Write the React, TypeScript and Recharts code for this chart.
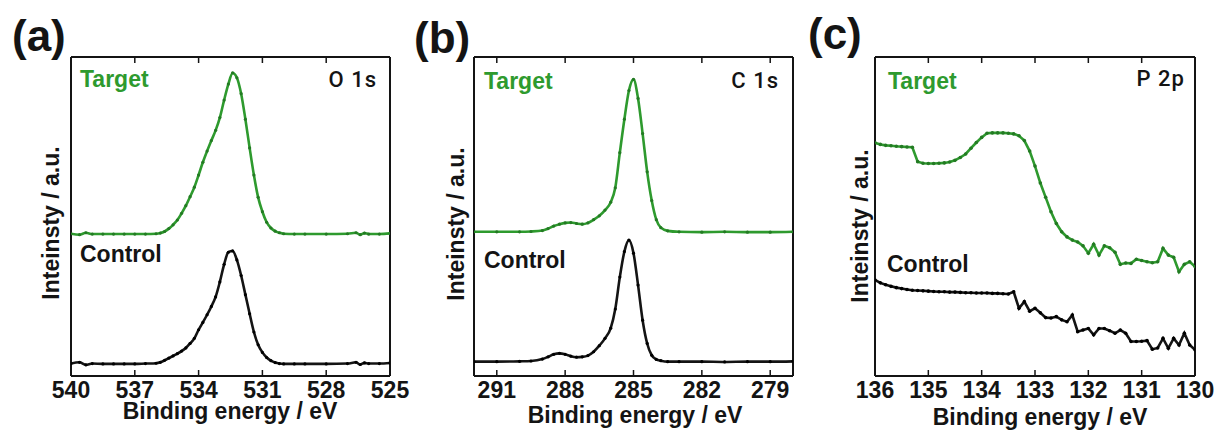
import { Line, LineChart, XAxis, YAxis } from 'recharts'

const FONT = '"Liberation Sans", Arial, Helvetica, sans-serif'
const GREEN = '#2e9a2e'
const GREEN_DOT = '#237a23'
const BLACK = '#141414'

// (a) O 1s
const o1sEnergy = [
  540, 539.6, 539.3, 539, 538.5, 538, 537.5, 537, 536.5,
  536, 535.8, 535.6, 535.4, 535.2, 535, 534.8, 534.6, 534.4, 534.2, 534,
  533.8, 533.6, 533.4, 533.2, 533, 532.8, 532.6, 532.4, 532.2, 532,
  531.8, 531.6, 531.4, 531.2, 531, 530.8, 530.6, 530.4, 530.2, 530,
  529.5, 529, 528, 527, 526.6, 526.4, 526.2, 526, 525.5, 525,
]
const o1sTarget = [
  44.6, 44.3, 44.9, 44.5, 44.5, 44.5, 44.5, 44.5, 44.5,
  44.6, 44.8, 45.3, 46.2, 47.4, 48.9, 51.0, 53.4, 56.2, 59.2, 63.0,
  67.0, 70.5, 73.8, 77.0, 81.0, 86.5, 91.5, 95.0, 93.5, 88.5,
  80.5, 71.5, 63.0, 56.0, 51.5, 48.2, 46.4, 45.4, 44.9, 44.6,
  44.5, 44.5, 44.5, 44.6, 44.9, 44.3, 44.8, 44.5, 44.5, 44.7,
]
const o1sControl = [
  3.9, 4.3, 3.5, 3.9, 3.8, 3.8, 3.8, 3.8, 3.9,
  4.0, 4.3, 4.9, 5.6, 6.3, 7.0, 7.8, 8.8, 10.2, 11.8, 14.5,
  16.8, 19.2, 21.8, 24.8, 29.5, 35.0, 38.8, 39.2, 36.4, 31.5,
  25.5, 19.5, 13.8, 9.8, 7.4, 5.8, 4.8, 4.2, 3.9, 3.8,
  3.8, 3.8, 3.8, 3.9, 4.3, 3.6, 4.1, 3.9, 3.9, 4.1,
]
const o1sTicks = [540, 537, 534, 531, 528, 525]

// (b) C 1s
const c1sEnergy = [
  292, 291, 290, 289.5, 289, 288.75, 288.5, 288.25, 288, 287.75, 287.5, 287.25,
  287, 286.75, 286.5, 286.25, 286, 285.8, 285.6, 285.4, 285.2, 285, 284.8,
  284.6, 284.4, 284.2, 284, 283.8, 283.5, 283, 282, 281, 280, 279, 278,
]
const c1sTarget = [
  45.2, 45.2, 45.2, 45.3, 45.6, 46.2, 47.0, 47.6, 48.0, 48.1, 47.8, 47.6,
  48.0, 49.0, 50.2, 52.0, 54.5, 59.0, 70.0, 80.5, 89.5, 93.0, 87.0,
  76.0, 64.0, 55.0, 49.0, 46.5, 45.5, 45.2, 45.1, 45.2, 45.1, 45.1, 45.2,
]
const c1sControl = [
  4.5, 4.5, 4.6, 4.7, 5.3, 6.0, 6.8, 7.1, 6.8, 6.2, 5.9, 6.0,
  6.4, 7.6, 9.5, 11.8, 15.0, 21.0, 31.0, 39.0, 42.6, 38.5, 28.5,
  17.5, 10.2, 6.5, 5.2, 4.8, 4.5, 4.5, 4.5, 4.4, 4.5, 4.5, 4.6,
]
const c1sTicks = [291, 288, 285, 282, 279]

// (c) P 2p
const p2pEnergy = [
  136, 135.9, 135.8, 135.7, 135.6, 135.5, 135.4, 135.3, 135.2, 135.1,
  135, 134.9, 134.8, 134.7, 134.6, 134.5, 134.4, 134.3, 134.2, 134.1,
  134, 133.9, 133.8, 133.7, 133.6, 133.5, 133.4, 133.3, 133.2, 133.1,
  133, 132.9, 132.8, 132.7, 132.6, 132.5, 132.4, 132.3, 132.2, 132.1,
  132, 131.9, 131.8, 131.7, 131.6, 131.5, 131.4, 131.3, 131.2, 131.1,
  131, 130.9, 130.8, 130.7, 130.6, 130.5, 130.4, 130.3, 130.2, 130.1, 130,
]
const p2pTarget = [
  73.1, 72.6, 72.3, 72.2, 72.0, 71.9, 71.8, 71.7, 67.2, 66.7,
  66.6, 66.6, 66.7, 66.8, 67.1, 67.6, 68.5, 69.6, 71.4, 73.2,
  74.8, 76.1, 76.2, 76.2, 76.2, 76.1, 75.9, 75.3, 73.8, 70.5,
  65.8, 60.5, 56.0, 51.5, 47.8, 45.2, 43.6, 42.6, 42.0, 40.8,
  38.5, 41.3, 37.9, 40.8, 40.2, 38.8, 35.0, 35.4, 35.3, 36.6,
  36.2, 35.8, 35.5, 35.8, 40.0, 37.9, 37.2, 32.7, 35.0, 35.8, 34.3,
]
const p2pControl = [
  30.1, 29.2, 28.6, 28.1, 27.7, 27.4, 27.1, 26.9, 26.8, 26.7,
  26.6, 26.5, 26.4, 26.4, 26.3, 26.3, 26.2, 26.1, 26.1, 26.0,
  26.0, 26.0, 25.9, 25.9, 25.8, 25.7, 26.4, 21.2, 23.3, 20.3,
  21.2, 19.8, 18.3, 18.2, 18.6, 17.6, 17.0, 19.1, 13.9, 14.4,
  14.9, 12.9, 14.9, 14.9, 14.2, 13.4, 14.4, 13.4, 10.8, 10.8,
  10.9, 11.1, 8.4, 8.8, 11.8, 8.7, 11.8, 9.7, 13.4, 9.7, 8.2,
]
const p2pTicks = [136, 135, 134, 133, 132, 131, 130]

const toRows = (energy: number[], values: number[]) =>
  energy.map((e, i) => ({ e, v: values[i] }))

function BottomTick(props: any) {
  const { x, y, payload } = props
  return (
    <g>
      <line x1={x} x2={x} y1={y} y2={y - 6} stroke={BLACK} strokeWidth={1.5} />
      <text
        x={x}
        y={y + 22}
        textAnchor="middle"
        fontFamily={FONT}
        fontWeight="bold"
        fontSize={23}
        fill={BLACK}
      >
        {payload.value}
      </text>
    </g>
  )
}

function TopTick(props: any) {
  const { x, y } = props
  return <line x1={x} x2={x} y1={y} y2={y + 6} stroke={BLACK} strokeWidth={1.5} />
}

type PanelProps = {
  energy: number[]
  target: number[]
  control: number[]
  ticks: number[]
  domain: [number, number]
  boxLeft: number
  boxWidth: number
  curve: 'monotone' | 'linear'
  dotR: number
}

const BOX_TOP = 57
const BOX_BOTTOM = 376
const H = 430
const PAD = 30

function Panel({ energy, target, control, ticks, domain, boxLeft, boxWidth, curve, dotR }: PanelProps) {
  const axisLine = { stroke: BLACK, strokeWidth: 2 }
  return (
    <div style={{ position: 'absolute', left: boxLeft - PAD, top: 0 }}>
      <LineChart
        width={boxWidth + 2 * PAD}
        height={H}
        margin={{ top: BOX_TOP, right: PAD, bottom: 0, left: PAD }}
      >
        <XAxis
          xAxisId="b"
          dataKey="e"
          type="number"
          domain={domain}
          reversed
          allowDataOverflow
          ticks={ticks}
          interval={0}
          height={H - BOX_BOTTOM}
          tickSize={0}
          tickMargin={0}
          tickLine={false}
          axisLine={axisLine}
          tick={<BottomTick />}
        />
        <XAxis
          xAxisId="t"
          dataKey="e"
          orientation="top"
          mirror
          type="number"
          domain={domain}
          reversed
          allowDataOverflow
          ticks={ticks}
          interval={0}
          tickSize={0}
          tickMargin={0}
          tickLine={false}
          axisLine={axisLine}
          tick={<TopTick />}
        />
        <YAxis
          yAxisId="l"
          type="number"
          domain={[0, 100]}
          allowDataOverflow
          mirror
          tick={false}
          tickLine={false}
          axisLine={axisLine}
        />
        <YAxis
          yAxisId="r"
          orientation="right"
          type="number"
          domain={[0, 100]}
          allowDataOverflow
          mirror
          tick={false}
          tickLine={false}
          axisLine={axisLine}
        />
        <Line
          xAxisId="b"
          yAxisId="l"
          data={toRows(energy, target)}
          dataKey="v"
          type={curve}
          stroke={GREEN}
          strokeWidth={2.6}
          dot={{ r: dotR, fill: GREEN_DOT, stroke: 'none' }}
          isAnimationActive={false}
        />
        <Line
          xAxisId="b"
          yAxisId="l"
          data={toRows(energy, control)}
          dataKey="v"
          type={curve}
          stroke={BLACK}
          strokeWidth={2.6}
          dot={{ r: dotR, fill: '#000', stroke: 'none' }}
          isAnimationActive={false}
        />
      </LineChart>
    </div>
  )
}

const bold = { fontFamily: FONT, fontWeight: 'bold' as const }

export default function App() {
  return (
    <div
      style={{
        position: 'absolute',
        left: 0,
        top: 0,
        width: 1216,
        height: H,
        background: '#fff',
        overflow: 'hidden',
      }}
    >
      <Panel
        energy={o1sEnergy}
        target={o1sTarget}
        control={o1sControl}
        ticks={o1sTicks}
        domain={[525, 540]}
        boxLeft={71}
        boxWidth={319}
        curve="monotone"
        dotR={1.6}
      />
      <Panel
        energy={c1sEnergy}
        target={c1sTarget}
        control={c1sControl}
        ticks={c1sTicks}
        domain={[278, 292]}
        boxLeft={474}
        boxWidth={319}
        curve="monotone"
        dotR={1.6}
      />
      <Panel
        energy={p2pEnergy}
        target={p2pTarget}
        control={p2pControl}
        ticks={p2pTicks}
        domain={[130, 136]}
        boxLeft={875}
        boxWidth={320}
        curve="linear"
        dotR={1.8}
      />

      <svg
        width={1216}
        height={H}
        style={{ position: 'absolute', left: 0, top: 0, pointerEvents: 'none' }}
      >
        <g {...bold} fontSize={44} fill={BLACK}>
          <text x={12} y={51}>(a)</text>
          <text x={414} y={53}>(b)</text>
          <text x={808} y={49}>(c)</text>
        </g>
        <g {...bold} fontSize={23} fill={GREEN}>
          <text x={80} y={87}>Target</text>
          <text x={484} y={89}>Target</text>
          <text x={888} y={89}>Target</text>
        </g>
        <g {...bold} fontSize={23} fill={BLACK}>
          <text x={80} y={262}>Control</text>
          <text x={484} y={268}>Control</text>
          <text x={887} y={272}>Control</text>
        </g>
        <g fontFamily="Roboto, 'Liberation Sans', Arial, sans-serif" fontWeight={500} fontSize={22} fill={BLACK} textAnchor="end" letterSpacing={1}>
          <text x={377} y={87}>O 1s</text>
          <text x={779} y={88}>C 1s</text>
          <text x={1185} y={86}>P 2p</text>
        </g>
        <g {...bold} fontSize={23} fill={BLACK} textAnchor="middle">
          <text x={230} y={419}>Binding energy / eV</text>
          <text x={635} y={423}>Binding energy / eV</text>
          <text x={1040} y={425}>Binding energy / eV</text>
          <text x={59} y={223} transform="rotate(-90 59 223)">Inteinsty / a.u.</text>
          <text x={464} y={224} transform="rotate(-90 464 224)">Inteinsty / a.u.</text>
          <text x={868} y={226} transform="rotate(-90 868 226)">Inteinsty / a.u.</text>
        </g>
      </svg>
    </div>
  )
}
